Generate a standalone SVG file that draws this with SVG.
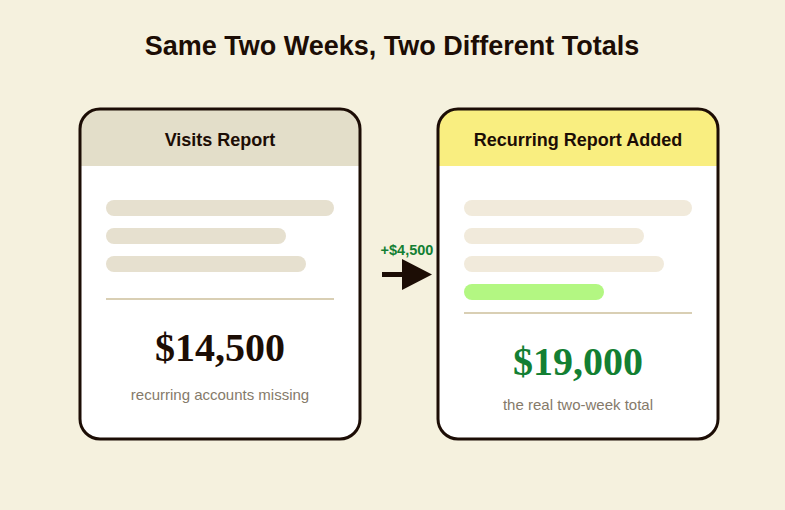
<svg xmlns="http://www.w3.org/2000/svg" width="785" height="510" viewBox="0 0 785 510">
<style>
.title{font-family:"Liberation Sans",Arial,sans-serif;font-weight:bold;font-size:27px;fill:#1c0d05;text-anchor:middle}
.head{font-family:"Liberation Sans",Arial,sans-serif;font-weight:bold;font-size:18px;fill:#1c0d05;text-anchor:middle}
.big{font-family:"Liberation Serif","Times New Roman",serif;font-weight:bold;font-size:40px;text-anchor:middle}
.sub{font-family:"Liberation Sans",Arial,sans-serif;font-size:15px;fill:#857a6a;text-anchor:middle}
.lbl{font-family:"Liberation Sans",Arial,sans-serif;font-weight:bold;font-size:14.5px;fill:#137f33;text-anchor:middle}
.frame{fill:none;stroke:#1c0d05;stroke-width:3}
.div{stroke:#d9cfb4;stroke-width:2}
</style>
<defs>
<clipPath id="c1"><rect x="80" y="109" width="280" height="330" rx="20"/></clipPath>
<clipPath id="c2"><rect x="438" y="109" width="280" height="330" rx="20"/></clipPath>
</defs>
<rect width="785" height="510" fill="#f5f1de"/>
<text class="title" x="392" y="55">Same Two Weeks, Two Different Totals</text>
<g id="visits-report">
<g clip-path="url(#c1)">
<rect x="80" y="109" width="280" height="330" fill="#ffffff"/>
<rect x="80" y="109" width="280" height="57" fill="#e3dec9"/>
</g>
<rect class="frame" x="80" y="109" width="280" height="330" rx="20"/>
<text class="head" x="220" y="146">Visits Report</text>
<rect x="106" y="200" width="228" height="16" rx="8" fill="#e6e0cf"/>
<rect x="106" y="228" width="180" height="16" rx="8" fill="#e6e0cf"/>
<rect x="106" y="256" width="200" height="16" rx="8" fill="#e6e0cf"/>
<line class="div" x1="106" y1="299" x2="334" y2="299"/>
<text class="big" x="220" y="361" fill="#1c0d05">$14,500</text>
<text class="sub" x="220" y="400">recurring accounts missing</text>
</g>
<g id="recurring-report">
<g clip-path="url(#c2)">
<rect x="438" y="109" width="280" height="330" fill="#ffffff"/>
<rect x="438" y="109" width="280" height="57" fill="#f9ee80"/>
</g>
<rect class="frame" x="438" y="109" width="280" height="330" rx="20"/>
<text class="head" x="578" y="146">Recurring Report Added</text>
<rect x="464" y="200" width="228" height="16" rx="8" fill="#f1eadb"/>
<rect x="464" y="228" width="180" height="16" rx="8" fill="#f1eadb"/>
<rect x="464" y="256" width="200" height="16" rx="8" fill="#f1eadb"/>
<rect x="464" y="284" width="140" height="16" rx="8" fill="#b3f782"/>
<line class="div" x1="464" y1="313" x2="692" y2="313"/>
<text class="big" x="578" y="375" fill="#137f33">$19,000</text>
<text class="sub" x="578" y="410">the real two-week total</text>
</g>
<g id="connectors">
<line x1="382" y1="274.5" x2="410" y2="274.5" stroke="#1c0d05" stroke-width="5"/>
<polygon points="402,259 432,274.5 402,290" fill="#1c0d05"/>
<text class="lbl" x="407" y="255">+$4,500</text>
</g>
</svg>
